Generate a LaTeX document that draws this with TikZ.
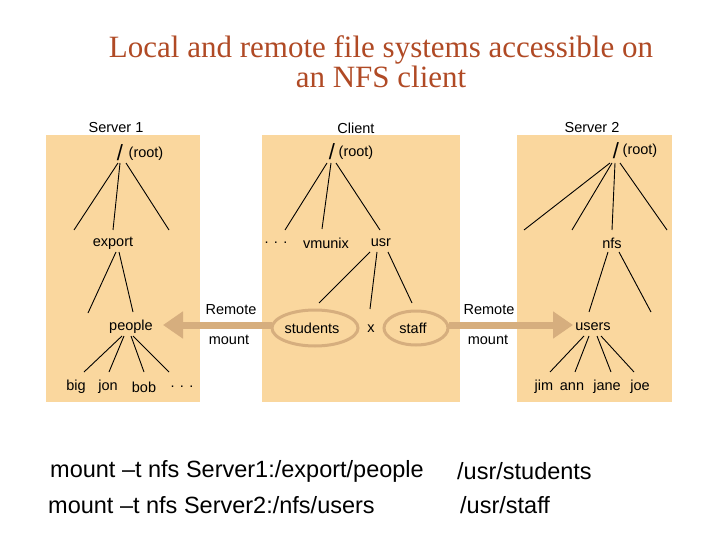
\documentclass[tikz,border=0pt]{standalone}
\usepackage{fontspec}
\setmainfont{Liberation Sans}
\newfontfamily\seriff{Liberation Serif}
\usetikzlibrary{arrows.meta}
\definecolor{panel}{HTML}{FAD79E}
\definecolor{tan}{HTML}{D6AE7E}
\definecolor{titlec}{HTML}{B04A25}
\begin{document}
\begin{tikzpicture}[x=1pt,y=-1pt,
  lbl/.style={inner sep=1pt,font=\fontsize{14.5}{15}\selectfont},
  slash/.style={inner sep=1pt,font=\fontsize{22}{22}\selectfont},
  bot/.style={anchor=west,inner sep=0pt,font=\fontsize{23.5}{24}\selectfont},
  ln/.style={line width=0.9pt},
  mnt/.style={line width=7pt,draw=tan,-{Triangle[width=26pt,length=20pt]}},
  ring/.style={draw=tan,line width=3pt}]
\useasboundingbox (0,0) rectangle (720,540);
\fill[panel] (46,135) rectangle (200,402);
\fill[panel] (262,135) rectangle (460,402);
\fill[panel] (517,135) rectangle (672,402);
\node[font=\seriff\fontsize{31}{30}\selectfont,text=titlec,align=center] (title) at (381,62) {Local and remote file systems accessible on\\an NFS client};
\node[lbl] (h1) at (116,128) {Server 1};
\node[lbl] (h2) at (356,128) {Client};
\node[lbl] (h3) at (592,128) {Server 2};
% server 1
\node[slash] (r1) at (120,153) {/};
\node[lbl] (r1l) at (146,154) {(root)};
\coordinate (a1) at (74,230); \coordinate (a3) at (169,230);
\node[lbl] (export) at (113,243) {export};
\draw[ln] (118,163) -- (a1); \draw[ln] (120,163) -- (113,230); \draw[ln] (126,163) -- (a3);
\coordinate (e1) at (88,313);
\node[lbl] (people) at (131,327) {people};
\draw[ln] (116,252) -- (e1); \draw[ln] (119,252) -- (133,312);
\node[lbl] (big) at (76,387) {big};
\node[lbl] (jon) at (108,387) {jon};
\node[lbl] (bob) at (144,387) {bob};
\node[lbl] (d1) at (182,387) {. . .};
\draw[ln] (122,336) -- (84,372); \draw[ln] (124,336) -- (109,372);
\draw[ln] (131,336) -- (144,372); \draw[ln] (133,336) -- (169,372);
% client
\node[slash] (r2) at (332,152) {/};
\node[lbl] (r2l) at (356,153) {(root)};
\node[lbl] (d2) at (276,243) {. . .};
\node[lbl] (vmunix) at (326,243) {vmunix};
\node[lbl] (usr) at (381,243) {usr};
\draw[ln] (327,163) -- (285,230); \draw[ln] (331,163) -- (322,229); \draw[ln] (336,163) -- (380,230);
\node[lbl] (students) at (312,328) {students};
\node[lbl] (x) at (371,329) {x};
\node[lbl] (staff) at (413,328) {staff};
\draw[ln] (370,252) -- (319,303); \draw[ln] (377,252) -- (370,309); \draw[ln] (388,252) -- (412,303);
\draw[ring] (315,328) ellipse (43 and 18);
\draw[ring] (416,328) ellipse (32 and 17);
\coordinate (lt) at (163,325); \coordinate (rt) at (573,325);
\draw[mnt] (272,325) -- (lt);
\draw[mnt] (449,325) -- (rt);
\node[lbl] (rm1) at (231,310) {Remote};
\node[lbl] (mt1) at (229,340) {mount};
\node[lbl] (rm2) at (489,310) {Remote};
\node[lbl] (mt2) at (488,340) {mount};
% server 2
\node[slash] (r3) at (616,151) {/};
\node[lbl] (r3l) at (640,151) {(root)};
\draw[ln] (610,163) -- (524,230); \draw[ln] (612,163) -- (572,230);
\draw[ln] (615,163) -- (612,230); \draw[ln] (620,163) -- (667,230);
\node[lbl] (nfs) at (612,243) {nfs};
\draw[ln] (608,252) -- (589,312); \draw[ln] (619,252) -- (651,312);
\node[lbl] (users) at (593,327) {users};
\node[lbl] (jim) at (544,387) {jim};
\node[lbl] (ann) at (572,387) {ann};
\node[lbl] (jane) at (607,387) {jane};
\node[lbl] (joe) at (640,387) {joe};
\draw[ln] (584,336) -- (550,372); \draw[ln] (589,336) -- (575,372);
\draw[ln] (597,336) -- (611,372); \draw[ln] (601,336) -- (634,372);
% bottom
\node[bot] (c1) at (50,471) {mount –t nfs Server1:/export/people};
\node[bot] (c2) at (457,471) {/usr/students};
\node[bot] (c3) at (48,505) {mount –t nfs Server2:/nfs/users};
\node[bot] (c4) at (460,505) {/usr/staff};
\end{tikzpicture}
\end{document}
